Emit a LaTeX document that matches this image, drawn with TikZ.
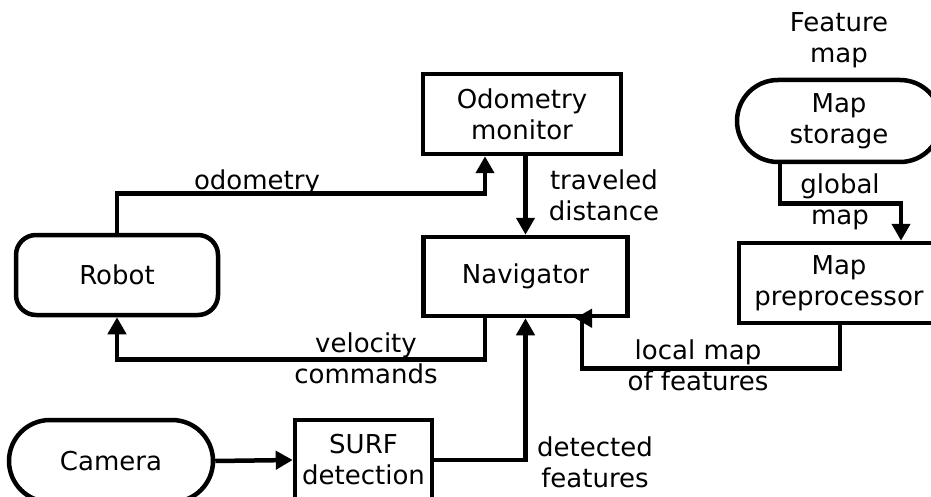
\documentclass[tikz,border=0pt]{standalone}
\usepackage{fontspec}
\setmainfont{DejaVu Sans}
\usetikzlibrary{arrows.meta,shapes.misc}

\begin{document}
\begin{tikzpicture}[x=1pt,y=-1pt,
  every node/.style={font=\fontsize{26}{31}\selectfont, align=center, inner sep=0pt},
  block/.style={draw, line width=4.5pt, minimum width=#1, minimum height=80pt},
  roundblock/.style={block=#1, rounded corners=20pt},
  pill/.style={draw, line width=4.5pt, rounded rectangle, minimum width=#1, minimum height=82pt},
  conn/.style={line width=4.5pt, -{Triangle[length=17pt,width=18pt]}},
  wire/.style={line width=4.5pt}]
\fill[white] (0,0) rectangle (931,497);
\useasboundingbox (0,0) rectangle (931,497);
\clip (0,0) rectangle (931,497);

% processing blocks
\node[roundblock=202pt] (robot) at (117,275) {Robot};
\node[block=198pt] (odo) at (522,114) {Odometry\\monitor};
\node[block=204pt, minimum height=79pt] (nav) at (525.5,276.5) {Navigator};
\node[pill=204pt] (store) at (839,121) {Map\\storage};
\node[block=200pt] (pre) at (839,283) {Map\\preprocessor};
\node[pill=204pt] (cam) at (111,461) {Camera};
\node[block=137pt] (surf) at (363.5,460) {SURF\\detection};

% data flow
\draw[conn] (robot.north) -- ++(0,-39) -| ([xshift=-37pt]odo.south);
\draw[conn] (nav.north |- odo.south) -- (nav.north);
\draw[conn] ([xshift=-40.5pt]nav.south) -- ++(0,41) -| (robot.south);
\draw[conn] (surf.east) -| (nav.south);
\draw[conn] (cam.east) -- (surf.west);
\draw[conn] ([xshift=-59pt]store.south) -- ++(0,39) -| ([xshift=62pt]pre.north);
\draw[wire] ([xshift=1pt]pre.south) -- ++(0,43) -| ([xshift=56.5pt]nav.south);
\draw[conn] ([xshift=66.5pt]nav.south) -- ([xshift=49.5pt]nav.south);

% labels
\node (lodo) at (257,182) {odometry};
\node (ltrav) at (604,195) {traveled\\distance};
\node (lvel) at (366,358) {velocity\\commands};
\node (lloc) at (698,365) {local map\\of features};
\node (ldet) at (595,462) {detected\\features};
\node (lglob) at (840,202) {global\\map};
\node (lfeat) at (839,40) {Feature\\map};
\end{tikzpicture}
\end{document}
